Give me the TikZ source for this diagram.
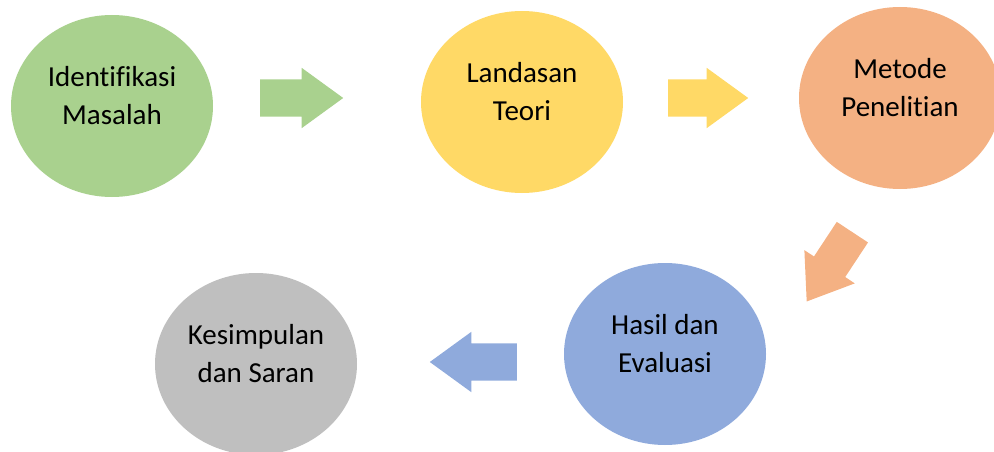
\documentclass[tikz,border=0pt]{standalone}
\usepackage{fontspec}
\setmainfont{Carlito}[Ligatures=NoCommon]
\usetikzlibrary{shapes,positioning}
\definecolor{phgreen}{HTML}{A9D18E}
\definecolor{phyellow}{HTML}{FFD966}
\definecolor{phorange}{HTML}{F4B183}
\definecolor{phblue}{HTML}{8FAADC}
\definecolor{phgray}{HTML}{BFBFBF}
\tikzset{
	phase/.style={ellipse,inner sep=0,minimum width=202,minimum height=182,draw=none},
	phasetext/.style={align=center,text=black,font=\fontsize{29}{38}\selectfont,yshift=10.5},
	blockarrow/.style={single arrow,anchor=tail,inner xsep=0,inner ysep=18.5,minimum height=83,minimum width=60,
		single arrow head extend=11.5,single arrow tip angle=72,draw=none}
}
\begin{document}
\begin{tikzpicture}[x=1pt,y=-1pt]
	\useasboundingbox (0,0) rectangle (994,452);

	%%top row
	\node[phase,fill=phgreen,label={[phasetext]center:{Identifikasi\\Masalah}}] (ident) at (112,106) {};
	\node[phase,fill=phyellow,label={[phasetext]center:{Landasan\\Teori}}] (teori) at (522,102) {};
	\node[phase,fill=phorange,label={[phasetext]center:{Metode\\Penelitian}}] (metode) at (900,98) {};

	%%bottom row
	\node[phase,fill=phblue,label={[phasetext]center:{Hasil dan\\Evaluasi}}] (hasil) at (665,354) {};
	\node[phase,fill=phgray,label={[phasetext]center:{Kesimpulan\\dan Saran}}] (simpul) at (256,364) {};

	%%arrows between the phases (placed at their tails)
	\node[blockarrow,fill=phgreen] (a1) at (260,98) {};
	\node[blockarrow,fill=phyellow,minimum height=80] (a2) at (668,98) {};
	\node[blockarrow,fill=phorange,rotate=-123.4] (a3) at (852.5,232) {};
	\node[blockarrow,fill=phblue,rotate=180,minimum height=87] (a4) at (517,362) {};

\end{tikzpicture}
\end{document}
